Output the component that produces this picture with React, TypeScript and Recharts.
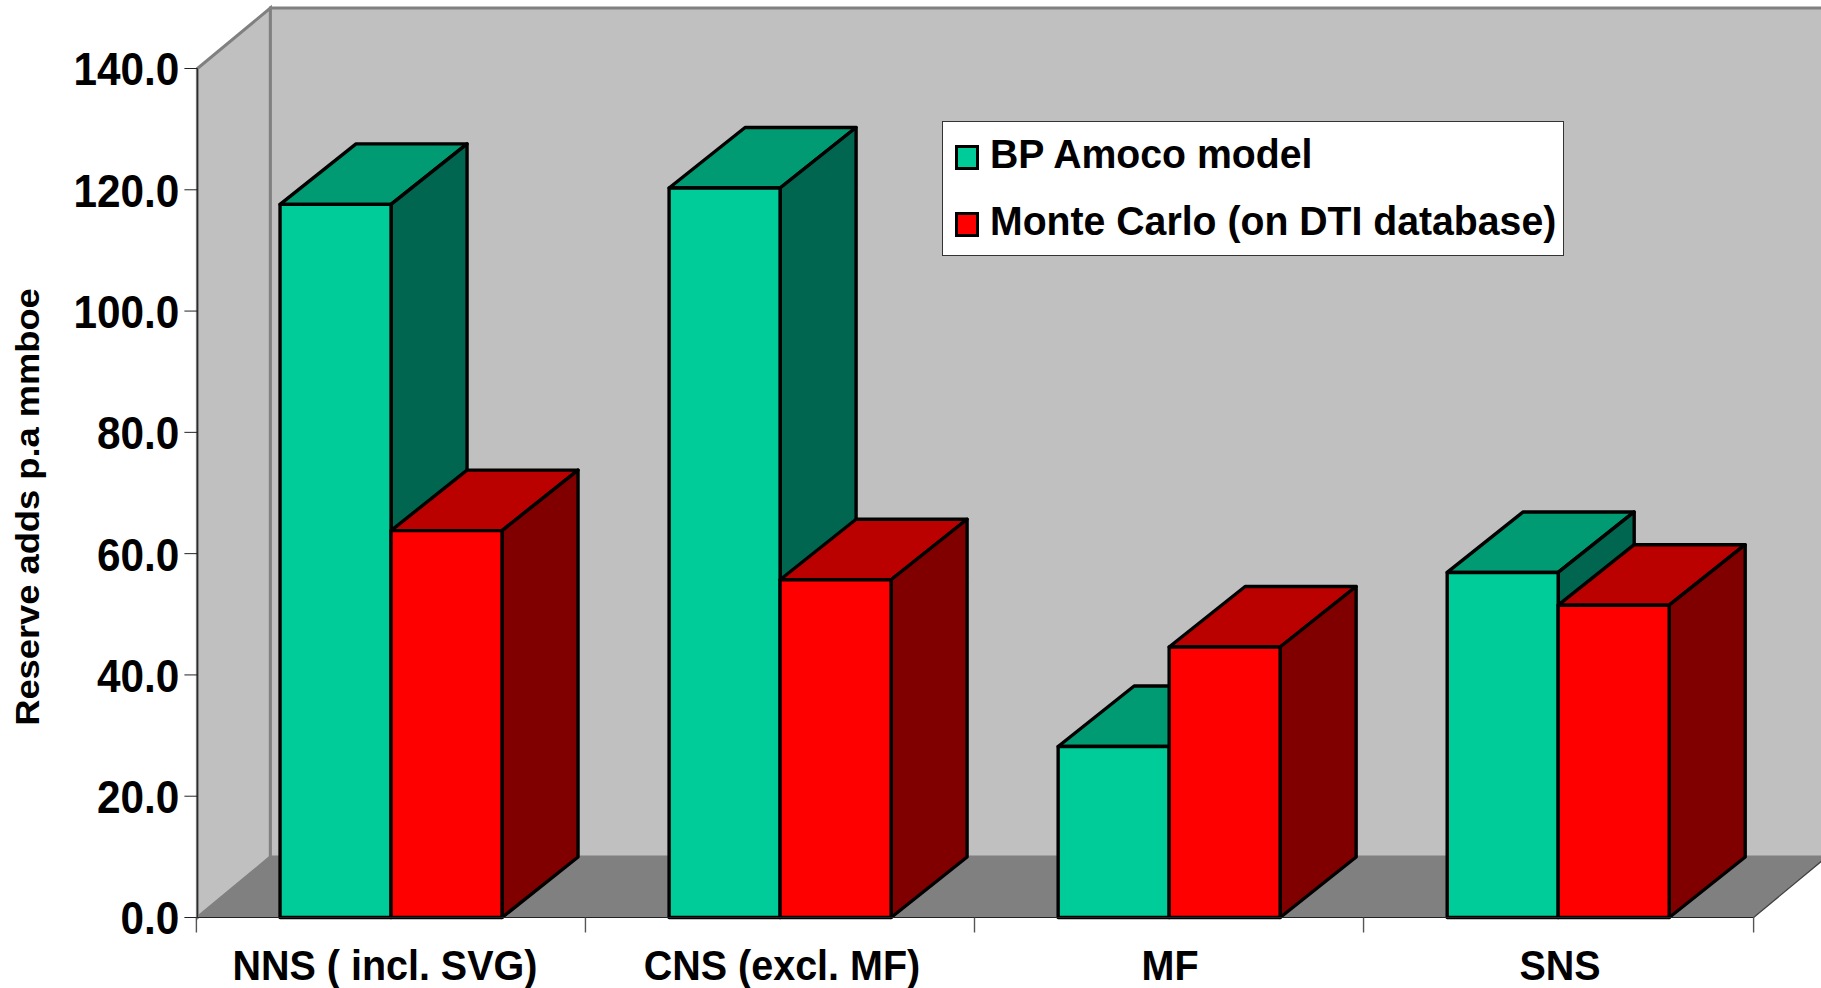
import React from "react";
import { BarChart, Bar, XAxis, YAxis, Legend, Customized } from "recharts";

const categories = ["NNS ( incl. SVG)", "CNS (excl. MF)", "MF", "SNS"];
const bpAmoco = [117.6, 120.3, 28.2, 56.9];
const monteCarlo = [63.8, 55.7, 44.6, 51.5];
const yTicks = [0, 20, 40, 60, 80, 100, 120, 140];
const seriesNames = ["BP Amoco model", "Monte Carlo (on DTI database)"];
const yTitle = "Reserve adds p.a mmboe";

const data = categories.map((name, i) => ({ name, bp: bpAmoco[i], mc: monteCarlo[i] }));

const W = 1821, H = 988;
const X0 = 197.4, X1 = 1753.6, Y0 = 917.5, Y1 = 68.5;
const DX = 76, DY = 60.5, WDX = 73, WDY = 60.5;
const FONT = "'Liberation Sans', Arial, sans-serif";
const BAND = (X1 - X0) / categories.length;
const LABEL_NUDGE = [-7, 1, 0, 1];

function Walls() {
  return (
    <g>
      <polygon points={`${X0},${Y0} ${X0},${Y1} ${X0 + WDX},${Y1 - WDY} ${X0 + WDX},${Y0 - WDY}`} fill="#C0C0C0" stroke="#808080" strokeWidth={3} />
      <rect x={X0 + WDX} y={Y1 - WDY} width={X1 - X0} height={Y0 - Y1} fill="#C0C0C0" stroke="#808080" strokeWidth={3} />
      <polygon points={`${X0},${Y0} ${X1},${Y0} ${X1 + WDX},${Y0 - WDY} ${X0 + WDX},${Y0 - WDY}`} fill="#808080" />
      <line x1={X1} y1={Y0} x2={X1 + WDX} y2={Y0 - WDY} stroke="#404040" strokeWidth={1.2} />
    </g>
  );
}

const bar3d = (topFill: string, sideFill: string) => (p: any) => {
  const { y, width, height, fill } = p;
  const x = p.x - 1;
  return (
    <g stroke="#000" strokeWidth={3.4} strokeLinejoin="round">
      <polygon points={`${x},${y} ${x + DX},${y - DY} ${x + width + DX},${y - DY} ${x + width},${y}`} fill={topFill} />
      <polygon points={`${x + width},${y} ${x + width + DX},${y - DY} ${x + width + DX},${y + height - DY} ${x + width},${y + height}`} fill={sideFill} />
      <rect x={x} y={y} width={width} height={height} fill={fill} />
    </g>
  );
};

const YTick = (p: any) => (
  <text
    transform={`translate(${p.x - 3},${p.y}) scale(0.9,1)`}
    textAnchor="end"
    dy="0.36em"
    fontFamily={FONT}
    fontWeight="bold"
    fontSize={47}
    fill="#000"
  >
    {Number(p.payload.value).toFixed(1)}
  </text>
);

const XTick = (p: any) => {
  const cx = p.x;
  const last = p.index === categories.length - 1;
  return (
    <g>
      <line x1={cx - BAND / 2 - 1} y1={Y0} x2={cx - BAND / 2 - 1} y2={Y0 + 15} stroke="#555" strokeWidth={1.4} />
      {last && <line x1={cx + BAND / 2} y1={Y0} x2={cx + BAND / 2} y2={Y0 + 15} stroke="#555" strokeWidth={1.4} />}
      <text
        transform={`translate(${cx + LABEL_NUDGE[p.index]},${Y0 + 62}) scale(0.94,1)`}
        textAnchor="middle"
        fontFamily={FONT}
        fontWeight="bold"
        fontSize={42}
        fill="#000"
      >
        {p.payload.value}
      </text>
    </g>
  );
};

const YTitle = () => (
  <text
    transform={`translate(39,507) rotate(-90) scale(1.1,1)`}
    textAnchor="middle"
    fontFamily={FONT}
    fontWeight="bold"
    fontSize={33}
    fill="#000"
  >
    {yTitle}
  </text>
);

const LegendBox = (p: any) => (
  <div style={{ width: 622, height: 135, boxSizing: "border-box", background: "#fff", border: "1.5px solid #333", position: "relative" }}>
    {(p.payload || []).map((e: any, i: number) => (
      <div key={e.value} style={{ position: "absolute", left: 12, top: 9 + i * 67, height: 46, display: "flex", alignItems: "center" }}>
        <span style={{ width: 24, height: 25, boxSizing: "border-box", background: e.color, border: "3px solid #000", display: "inline-block", marginRight: 11, flex: "none", position: "relative", top: 3 }} />
        <span style={{ fontFamily: FONT, fontWeight: "bold", fontSize: 40, color: "#000", whiteSpace: "nowrap", transform: "scaleX(0.98)", transformOrigin: "left center" }}>{e.value}</span>
      </div>
    ))}
  </div>
);

export default function App() {
  return (
    <div style={{ position: "absolute", left: 0, top: 0, width: W, height: H, overflow: "hidden", background: "#fff" }}>
      <BarChart
        width={W}
        height={H}
        data={data}
        margin={{ top: Y1, right: W - X1, left: 0, bottom: 0 }}
        barCategoryGap="21.5%"
        barGap={0}
      >
        <Customized component={Walls} />
        <XAxis dataKey="name" height={H - Y0} stroke="#222" tickLine={false} tick={XTick} interval={0} />
        <YAxis
          width={X0}
          domain={[0, 140]}
          ticks={yTicks}
          stroke="#222"
          tickSize={13}
          tick={YTick}
          interval={0}
          label={<YTitle />}
        />
        <Legend
          layout="horizontal"
          verticalAlign="middle"
          align="center"
          content={LegendBox}
          wrapperStyle={{ left: 942, top: 121, width: 622, height: 136 }}
        />
        <Bar dataKey="bp" name={seriesNames[0]} fill="#00CC99" isAnimationActive={false} shape={bar3d("#009B72", "#006650")} />
        <Bar dataKey="mc" name={seriesNames[1]} fill="#FF0000" isAnimationActive={false} shape={bar3d("#BB0000", "#800000")} />
      </BarChart>
    </div>
  );
}
